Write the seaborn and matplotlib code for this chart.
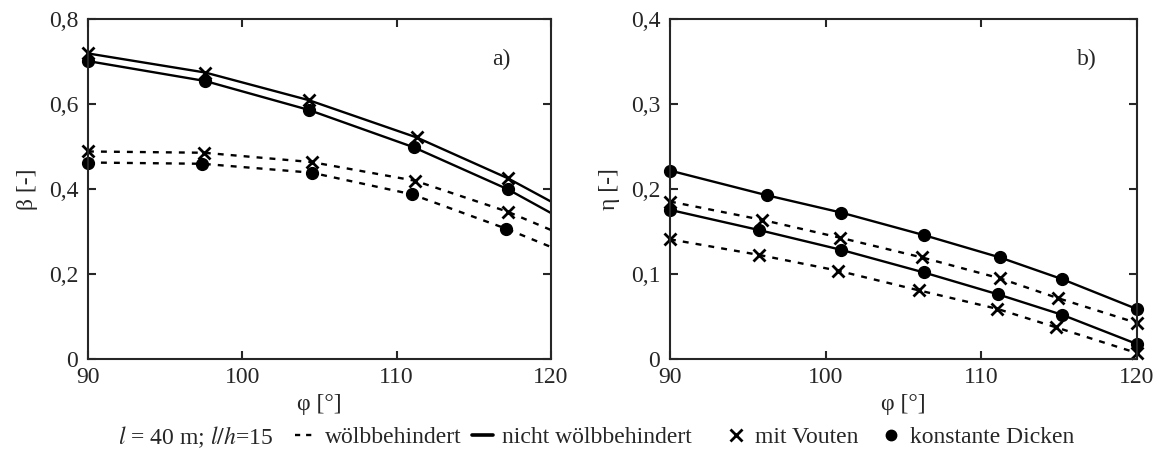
import matplotlib
matplotlib.use("Agg")
import matplotlib.pyplot as plt
from matplotlib.lines import Line2D
import seaborn as sns

# Teil a) beta ueber phi
a_phi_xs = [90, 97.6, 104.3, 111.3, 117.2, 120]
a_beta_xs = [0.720, 0.675, 0.610, 0.522, 0.426, 0.371]      # nicht woelbbeh., Vouten
a_phi_dots = [90, 97.6, 104.3, 111.1, 117.2, 120]
a_beta_dots = [0.702, 0.655, 0.587, 0.499, 0.400, 0.344]    # nicht woelbbeh., konst.
a_phi_xd = [90, 97.5, 104.5, 111.2, 117.2, 120]
a_beta_xd = [0.489, 0.486, 0.464, 0.420, 0.347, 0.304]      # woelbbeh., Vouten
a_phi_dd = [90, 97.4, 104.5, 111.0, 117.1, 120]
a_beta_dd = [0.463, 0.460, 0.439, 0.388, 0.307, 0.264]      # woelbbeh., konst.

# Teil b) eta ueber phi
b_phi_s1 = [90, 96.2, 101.0, 106.3, 111.2, 115.2, 120]
b_eta_s1 = [0.222, 0.193, 0.1725, 0.146, 0.1196, 0.094, 0.0588]
b_phi_s2 = [90, 95.7, 101.0, 106.3, 111.1, 115.2, 120]
b_eta_s2 = [0.1757, 0.152, 0.1286, 0.102, 0.076, 0.052, 0.0176]
b_phi_d1 = [90, 95.9, 100.9, 106.2, 111.2, 114.9, 120]
b_eta_d1 = [0.1855, 0.164, 0.143, 0.1196, 0.095, 0.0718, 0.0424]
b_phi_d2 = [90, 95.7, 100.8, 106.0, 111.0, 114.8, 120]
b_eta_d2 = [0.141, 0.1227, 0.104, 0.0808, 0.0592, 0.0373, 0.007]

x_ticks = [90, 100, 110, 120]
a_yticks = [0, 0.2, 0.4, 0.6, 0.8]
a_ylabels = ["0", "0,2", "0,4", "0,6", "0,8"]
b_yticks = [0, 0.1, 0.2, 0.3, 0.4]
b_ylabels = ["0", "0,1", "0,2", "0,3", "0,4"]

sns.set_style("ticks")
plt.rcParams['font.family'] = ['Liberation Serif', 'DejaVu Serif']
plt.rcParams['mathtext.fontset'] = 'stix'

fs = 17
fig = plt.figure(figsize=(11.65, 4.53), dpi=100)
ax1 = fig.add_axes([0.0755, 0.2075, 0.3974, 0.7495])
ax2 = fig.add_axes([0.5751, 0.2075, 0.4009, 0.7495])

lw = 1.7
dash = (2.5, 3)

def curve(ax, x, y, ls, marker, mark_last=True):
    sns.lineplot(x=x, y=y, ax=ax, color='black', lw=lw, linestyle=ls, sort=False)
    if ls == '--':
        ax.lines[-1].set_dashes(dash)
    mx = x if mark_last else x[:-1]
    my = y if mark_last else y[:-1]
    if marker == 'x':
        ax.plot(mx, my, ls='none', marker='x', ms=9, mew=2, color='black', clip_on=False)
    else:
        ax.plot(mx, my, ls='none', marker='o', ms=8.5, color='black', clip_on=False)

curve(ax1, a_phi_xs, a_beta_xs, '-', 'x', False)
curve(ax1, a_phi_dots, a_beta_dots, '-', 'o', False)
curve(ax1, a_phi_xd, a_beta_xd, '--', 'x', False)
curve(ax1, a_phi_dd, a_beta_dd, '--', 'o', False)

curve(ax2, b_phi_s1, b_eta_s1, '-', 'o')
curve(ax2, b_phi_s2, b_eta_s2, '-', 'o')
curve(ax2, b_phi_d1, b_eta_d1, '--', 'x')
curve(ax2, b_phi_d2, b_eta_d2, '--', 'x')

for ax, yt, yl, lab, tag in [(ax1, a_yticks, a_ylabels, 'β [-]', 'a)'),
                             (ax2, b_yticks, b_ylabels, 'η [-]', 'b)')]:
    ax.set_xlim(90, 120)
    ax.set_ylim(yt[0], yt[-1])
    ax.set_xticks(x_ticks)
    ax.set_xticklabels([str(t) for t in x_ticks])
    ax.set_yticks(yt)
    ax.set_yticklabels(yl)
    ax.tick_params(direction='in', length=6, width=1.5, top=True, right=True,
                   labelsize=fs)
    ax.tick_params(axis='x', pad=6)
    ax.tick_params(axis='y', pad=7)
    for s in ax.spines.values():
        s.set_linewidth(1.5)
        s.set_visible(True)
    ax.set_xlabel('φ [°]', fontsize=fs, labelpad=4)
    ax.set_ylabel(lab, fontsize=fs, labelpad=8)
    ax.text(0.892, 0.882, tag, transform=ax.transAxes, fontsize=fs, ha='center', va='center')

fig.text(0.234, 0.035, '$l$ = 40 m; $l/h$=15', fontsize=fs, ha='right', va='center')

items = [
    (295, Line2D([], [], color='black', lw=lw, ls='--', dashes=(2.2, 2.5)), 'wölbbehindert'),
    (472, Line2D([], [], color='black', lw=2.6, ls='-'), 'nicht wölbbehindert'),
    (725, Line2D([], [], color='black', ls='none', marker='x', ms=8, mew=2), 'mit Vouten'),
    (880, Line2D([], [], color='black', ls='none', marker='o', ms=7.5), 'konstante Dicken'),
]
for x0, h, t in items:
    fig.legend([h], [t], loc='center left', bbox_to_anchor=(x0 / 1165, 0.035),
               frameon=False, fontsize=fs, handlelength=0.9, handletextpad=0.35,
               borderpad=0, borderaxespad=0)

fig.savefig('out.png', dpi=100)
